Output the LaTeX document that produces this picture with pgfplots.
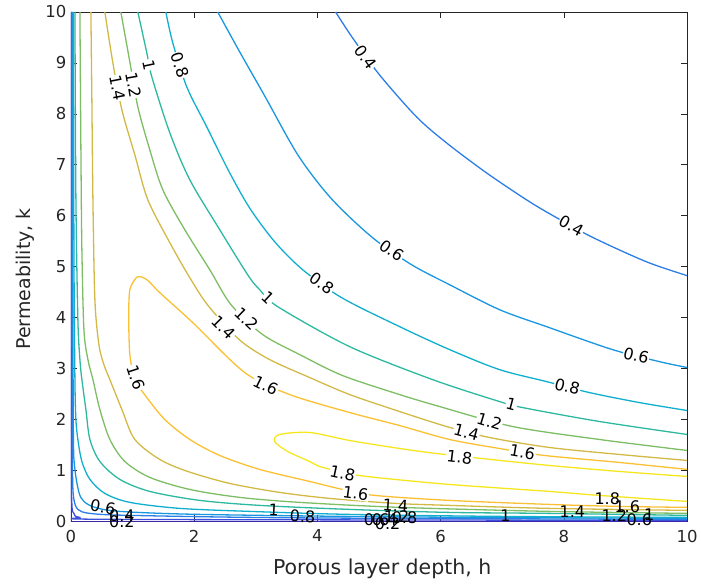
\documentclass[border=0pt]{standalone}
\usepackage{fontspec}
\setmainfont{DejaVu Sans}
\usepackage{pgfplots}
\pgfplotsset{compat=1.18}
\definecolor{c00}{RGB}{62,38,168}
\definecolor{c02}{RGB}{60,80,220}
\definecolor{c04}{RGB}{45,125,230}
\definecolor{c06}{RGB}{25,150,225}
\definecolor{c08}{RGB}{15,175,205}
\definecolor{c10}{RGB}{45,185,160}
\definecolor{c12}{RGB}{125,190,100}
\definecolor{c14}{RGB}{210,185,70}
\definecolor{c16}{RGB}{250,192,50}
\definecolor{c18}{RGB}{245,230,30}
\definecolor{axgray}{RGB}{38,38,38}
\tikzset{
  lab/.style={font=\fontsize{16}{18}\selectfont, fill=white, inner sep=0.6pt, text=black},
  labn/.style={font=\fontsize{16}{18}\selectfont, inner sep=0.5pt, text=black},
}
\begin{document}
\begin{tikzpicture}
\begin{axis}[
  width=617pt, height=510pt, scale only axis,
  xmin=0, xmax=10, ymin=0, ymax=10,
  xtick={0,2,4,6,8,10}, ytick={0,1,2,3,4,5,6,7,8,9,10},
  tick align=inside, major tick length=6pt,
  axis line style={draw=axgray, line width=0.7pt},
  every tick/.style={axgray, line width=0.7pt},
  tick label style={font=\fontsize{16.5}{18}\selectfont, text=axgray},
  xticklabel style={yshift=-5pt},
  yticklabel style={xshift=-1pt},
  /pgf/number format/assume math mode=true,
  xlabel={Porous layer depth, h}, ylabel={Permeability, k},
  label style={text=axgray},
  x label style={font=\fontsize{20.5}{23}\selectfont, at={(axis description cs:0.505,-0.094)}, anchor=center},
  y label style={font=\fontsize{19}{22}\selectfont, at={(axis description cs:-0.0746,0.476)}, anchor=center},
  clip mode=individual,
  every axis plot/.append style={line width=1.3pt, smooth, tension=0.5, no markers},
]
% level 0
\addplot[c00, line width=1.6pt, sharp plot] coordinates {(0,10) (0,0) (10,0)};
% level 0.2
\addplot[c02] coordinates {(0.008,10) (0.010,1.412) (0.016,0.333) (0.049,0.157) (0.146,0.078) (0.794,0.039) (10,0.020)};
% level 0.4
\addplot[c04] coordinates {(0.016,10) (0.021,2.392) (0.028,0.824) (0.049,0.431) (0.113,0.235) (0.308,0.157) (0.956,0.118) (3.711,0.069) (10,0.039)};
\addplot[c04] coordinates {(4.295,10) (4.571,9.49) (5.008,8.765) (5.608,7.941) (6.094,7.431) (6.742,6.843) (7.391,6.314) (7.796,6.020) (8.444,5.588) (9.335,5.098) (10,4.824)};
% level 0.6
\addplot[c06] coordinates {(0.024,10) (0.032,4.353) (0.041,1.608) (0.065,1.020) (0.130,0.569) (0.211,0.392) (0.389,0.275) (0.794,0.196) (2.091,0.137) (5.332,0.088) (10,0.059)};
\addplot[c06] coordinates {(2.382,10) (2.739,9.216) (3.144,8.353) (3.690,7.180) (4.230,6.330) (4.895,5.569) (5.527,5.039) (6.143,4.647) (6.953,4.157) (7.715,3.824) (8.785,3.373) (9.546,3.137) (10,3.020)};
% level 0.8
\addplot[c08] coordinates {(0.041,10) (0.049,5.333) (0.065,2.784) (0.081,2.0) (0.113,1.608) (0.178,1.176) (0.308,0.824) (0.551,0.549) (0.956,0.373) (1.767,0.255) (2.901,0.196) (4.522,0.137) (6.953,0.098) (10,0.078)};
\addplot[c08] coordinates {(1.540,10) (1.653,9.392) (1.880,8.529) (2.204,7.745) (2.560,6.880) (2.901,6.150) (3.306,5.490) (3.760,4.941) (4.392,4.392) (5.332,3.824) (6.143,3.373) (6.953,2.980) (7.715,2.745) (8.412,2.529) (9.222,2.333) (10,2.176)};
% level 1.0
\addplot[c10] coordinates {(0.065,10) (0.081,6.314) (0.113,3.961) (0.146,3.176) (0.178,2.784) (0.243,2.196) (0.308,1.608) (0.470,1.176) (0.794,0.824) (1.280,0.588) (2.091,0.412) (3.063,0.314) (4.522,0.235) (6.143,0.176) (7.763,0.157) (10,0.118)};
\addplot[c10] coordinates {(1.086,10) (1.232,9.196) (1.313,8.725) (1.605,7.627) (1.929,6.706) (2.415,5.725) (2.880,4.820) (3.063,4.549) (3.355,4.216) (4.522,3.431) (5.867,2.784) (6.953,2.353) (7.326,2.235) (8.574,1.961) (10,1.706)};
% level 1.2
\addplot[c12] coordinates {(0.146,10) (0.162,7.294) (0.178,5.333) (0.211,3.765) (0.276,3.176) (0.357,2.784) (0.470,2.196) (0.632,1.608) (0.875,1.176) (1.280,0.863) (1.929,0.627) (2.739,0.471) (3.711,0.373) (5.332,0.275) (7.763,0.196) (10,0.157)};
\addplot[c12] coordinates {(0.810,10) (0.956,9.020) (1.086,8.137) (1.280,7.294) (1.491,6.510) (1.848,5.725) (2.253,4.941) (2.600,4.250) (3.112,3.667) (3.711,3.275) (4.408,2.863) (5.332,2.490) (5.981,2.255) (7.164,1.863) (8.574,1.608) (10,1.392)};
% level 1.4
\addplot[c14] coordinates {(0.324,10) (0.340,8.275) (0.357,6.314) (0.389,4.353) (0.454,3.471) (0.535,3.078) (0.632,2.784) (0.827,2.196) (1.037,1.608) (1.442,1.216) (1.896,0.980) (2.577,0.745) (3.387,0.569) (4.198,0.451) (5.267,0.353) (6.143,0.314) (7.763,0.255) (10,0.216)};
\addplot[c14] coordinates {(0.551,10) (0.681,9.0) (0.827,8.078) (1.037,7.196) (1.248,6.314) (1.605,5.471) (1.929,4.784) (2.230,4.230) (2.739,3.560) (3.225,3.176) (3.874,2.824) (4.522,2.490) (5.332,2.157) (6.094,1.863) (6.791,1.647) (7.763,1.451) (8.898,1.314) (10,1.196)};
% level 1.6
\addplot[c16] coordinates {(10,0.275) (8.898,0.294) (7.763,0.333) (6.143,0.412) (4.927,0.510) (4.408,0.627) (3.874,0.784) (3.063,1.020) (2.415,1.294) (1.929,1.608) (1.523,2.0) (1.232,2.431) (1.086,2.686) (1.005,2.941) (0.956,3.275) (0.940,3.765) (0.940,4.255) (0.956,4.549) (1.005,4.686) (1.086,4.804) (1.232,4.745) (1.442,4.490) (1.977,3.902) (2.820,2.922) (3.549,2.490) (4.522,2.137) (5.332,1.882) (6.143,1.608) (6.953,1.431) (7.682,1.294) (8.898,1.157) (10,1.020)};
% level 1.8
\addplot[c18] coordinates {(10,0.392) (8.574,0.510) (7.763,0.588) (6.143,0.725) (4.797,0.882) (4.360,0.980) (4.036,1.078) (3.874,1.176) (3.517,1.373) (3.306,1.569) (3.387,1.706) (3.874,1.745) (4.522,1.588) (5.332,1.431) (5.932,1.333) (6.661,1.235) (7.763,1.098) (8.898,0.980) (10,0.882)};
% labels (upper region)
\node[lab, rotate=-54] at (axis cs:4.781,9.118) {0.4};
\node[lab, rotate=-29] at (axis cs:8.120,5.804) {0.4};
\node[lab, rotate=-35] at (axis cs:5.203,5.314) {0.6};
\node[lab, rotate=-14] at (axis cs:9.173,3.255) {0.6};
\node[lab, rotate=-72] at (axis cs:1.767,8.961) {0.8};
\node[lab, rotate=-36] at (axis cs:4.068,4.667) {0.8};
\node[lab, rotate=-14] at (axis cs:8.055,2.647) {0.8};
\node[lab, rotate=-78] at (axis cs:1.264,8.961) {1};
\node[lab, rotate=-43] at (axis cs:3.209,4.392) {1};
\node[lab, rotate=-15] at (axis cs:7.147,2.294) {1};
\node[lab, rotate=-80] at (axis cs:1.021,8.569) {1.2};
\node[lab, rotate=-44] at (axis cs:2.853,3.980) {1.2};
\node[lab, rotate=-17] at (axis cs:6.791,1.961) {1.2};
\node[lab, rotate=-79] at (axis cs:0.762,8.510) {1.4};
\node[lab, rotate=-45] at (axis cs:2.480,3.804) {1.4};
\node[lab, rotate=-15] at (axis cs:6.418,1.745) {1.4};
\node[lab, rotate=-72] at (axis cs:1.053,2.824) {1.6};
\node[lab, rotate=-26] at (axis cs:3.160,2.667) {1.6};
\node[lab, rotate=-10] at (axis cs:7.326,1.353) {1.6};
\node[lab, rotate=-7] at (axis cs:6.305,1.255) {1.8};
\node[lab, rotate=-12] at (axis cs:4.408,0.941) {1.8};
% labels (bottom band)
\node[lab, rotate=-8] at (axis cs:4.619,0.549) {1.6};
\node[labn, rotate=-4] at (axis cs:5.267,0.314) {1.4};
\node[labn, rotate=-3] at (axis cs:3.290,0.216) {1};
\node[labn, rotate=-2] at (axis cs:3.760,0.098) {0.8};
\node[labn, rotate=-10] at (axis cs:0.519,0.275) {0.6};
\node[labn] at (axis cs:0.827,0.118) {0.4};
\node[labn] at (axis cs:0.827,0.0) {0.2};
\node[labn] at (axis cs:4.959,0.039) {0.6};
\node[labn] at (axis cs:5.089,0.039) {0.4};
\node[labn] at (axis cs:5.138,-0.039) {0.2};
\node[labn] at (axis cs:5.284,0.098) {1.2};
\node[labn] at (axis cs:5.413,0.078) {0.8};
\node[labn] at (axis cs:7.050,0.118) {1};
\node[labn] at (axis cs:8.136,0.196) {1.4};
\node[labn] at (axis cs:8.703,0.451) {1.8};
\node[labn] at (axis cs:9.028,0.294) {1.6};
\node[labn] at (axis cs:8.817,0.118) {1.2};
\node[labn] at (axis cs:9.222,0.039) {0.6};
\node[labn] at (axis cs:9.384,0.137) {1};
\end{axis}
\path ([xshift=-71pt,yshift=-63pt]current axis.south west) rectangle ([xshift=13pt,yshift=12pt]current axis.north east);
\end{tikzpicture}
\end{document}
